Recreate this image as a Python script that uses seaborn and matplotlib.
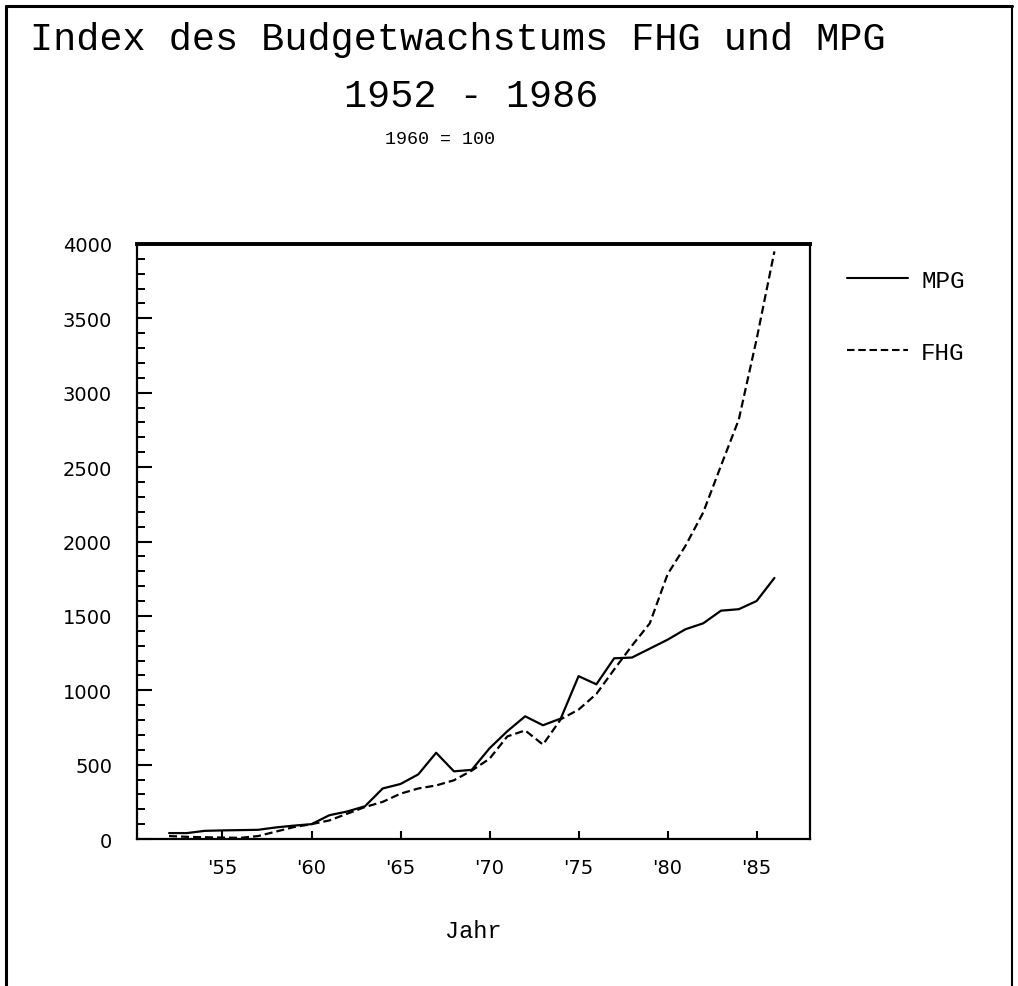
import pandas as pd
import seaborn as sns
import matplotlib.pyplot as plt
from matplotlib.lines import Line2D
from matplotlib.ticker import MultipleLocator

# Index des Budgetwachstums, 1960 = 100
years = list(range(1952, 1987))
mpg = [40, 40, 55, 58, 60, 62, 78, 90, 100, 160, 185, 220, 340, 370, 435, 580,
       455, 465, 610, 725, 825, 765, 810, 1095, 1040, 1215, 1220, 1280, 1340,
       1410, 1450, 1535, 1545, 1600, 1755]
fhg = [20, 15, 12, 10, 8, 20, 50, 80, 100, 125, 170, 215, 250, 305, 340, 360,
       395, 460, 540, 690, 730, 635, 805, 870, 975, 1140, 1300, 1450, 1780,
       1970, 2195, 2510, 2820, 3360, 3950]
xticks = [1955, 1960, 1965, 1970, 1975, 1980, 1985]
xticklabels = ["'55", "'60", "'65", "'70", "'75", "'80", "'85"]

df = pd.DataFrame({
    "Jahr": years * 2,
    "Index": mpg + fhg,
    "Reihe": ["MPG"] * len(years) + ["FHG"] * len(years),
})

sns.set_style("ticks", {"axes.edgecolor": "black", "xtick.color": "black",
                        "ytick.color": "black", "text.color": "black",
                        "axes.labelcolor": "black"})
plt.rcParams["font.family"] = ["DejaVu Sans"]
mono = ["Liberation Mono", "DejaVu Sans Mono"]

fig = plt.figure(figsize=(10.18, 9.87), dpi=100)
ax = fig.add_axes([0.1346, 0.1489, 0.6611, 0.6029])

sns.lineplot(data=df, x="Jahr", y="Index", hue="Reihe", style="Reihe",
             palette={"MPG": "black", "FHG": "black"},
             dashes={"MPG": "", "FHG": (3.6, 1.8)}, linewidth=1.6, ax=ax)

ax.set_xlim(1950.2, 1988)
ax.set_ylim(0, 4000)
ax.yaxis.set_major_locator(MultipleLocator(500))
ax.yaxis.set_minor_locator(MultipleLocator(100))
ax.set_xticks(xticks)
ax.set_xticklabels(xticklabels)
ax.tick_params(axis="y", which="major", direction="in", length=10.5, width=1.5,
               pad=18, labelsize=14)
ax.tick_params(axis="y", which="minor", direction="in", length=5.5, width=1.4)
ax.tick_params(axis="x", which="major", direction="in", length=5.5, width=1.5,
               pad=14, labelsize=14)
for s in ax.spines.values():
    s.set_linewidth(1.6)
    s.set_visible(True)
ax.spines["top"].set_linewidth(2.8)

ax.set_ylabel("")
ax.set_xlabel("Jahr", family=mono, fontsize=17, labelpad=30)

leg = ax.legend(loc="upper left", bbox_to_anchor=(1.055, 0.958), frameon=False,
                borderaxespad=0, borderpad=0, handlelength=2.5,
                handletextpad=0.55, labelspacing=2.0,
                prop={"family": mono, "size": 17.5})
for h in leg.get_lines():
    h.set_linewidth(1.5)

fig.text(458 / 1018, 1 - 40 / 987, "Index des Budgetwachstums FHG und MPG",
         family=mono, fontsize=27.7, ha="center", va="center")
fig.text(471 / 1018, 1 - 97 / 987, "1952 - 1986",
         family=mono, fontsize=27.7, ha="center", va="center")
fig.text(440 / 1018, 1 - 140 / 987, "1960 = 100",
         family=mono, fontsize=13.2, ha="center", va="center")

# page frame
fig.add_artist(Line2D([6 / 1018, 6 / 1018], [0, 1 - 7 / 987], color="black", lw=2.2))
fig.add_artist(Line2D([6 / 1018, 1012 / 1018], [1 - 7 / 987, 1 - 7 / 987], color="black", lw=2.2))
fig.add_artist(Line2D([1012 / 1018, 1012 / 1018], [0, 1 - 7 / 987], color="black", lw=1.5))

fig.savefig("out.png", dpi=100)
plt.close(fig)
